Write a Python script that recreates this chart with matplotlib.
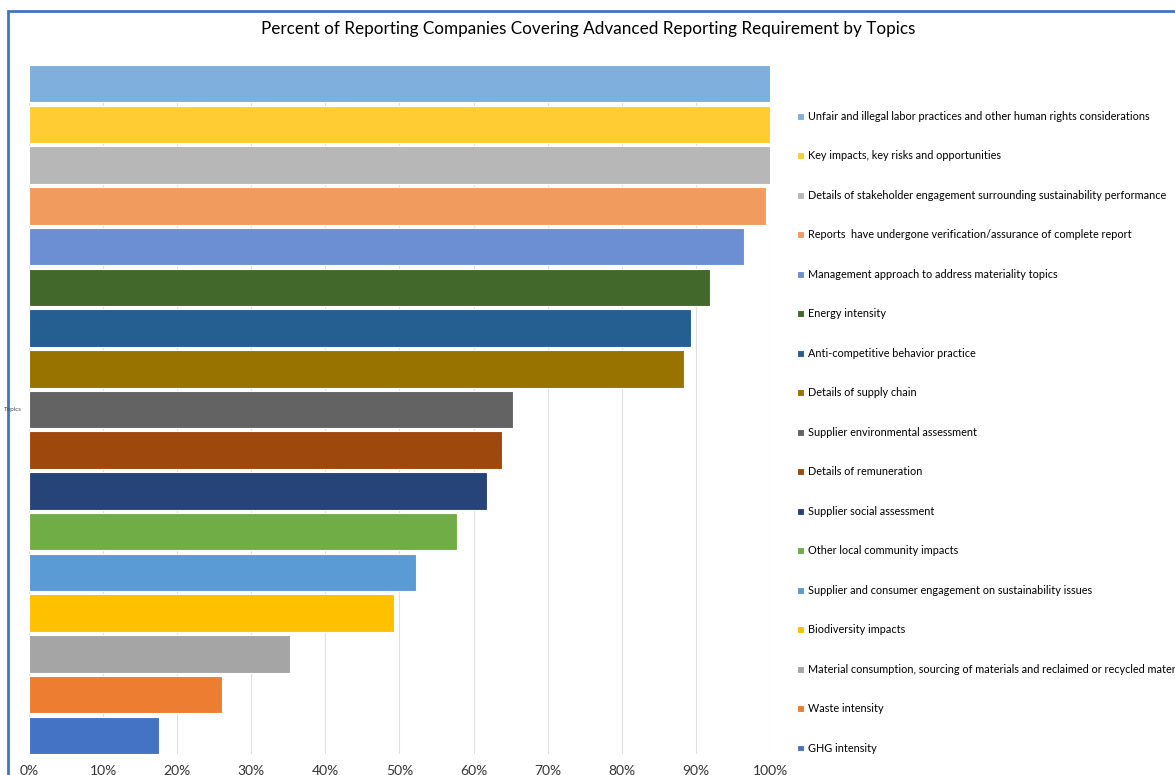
import matplotlib.pyplot as plt
from matplotlib.patches import Rectangle
from matplotlib.ticker import PercentFormatter

plt.rcParams['font.family'] = ['Lato', 'DejaVu Sans']

# topics, top to bottom as shown
topics = [
    "Unfair and illegal labor practices and other human rights considerations",
    "Key impacts, key risks and opportunities",
    "Details of stakeholder engagement surrounding sustainability performance",
    "Reports  have undergone verification/assurance of complete report",
    "Management approach to address materiality topics",
    "Energy intensity",
    "Anti-competitive behavior practice",
    "Details of supply chain",
    "Supplier environmental assessment",
    "Details of remuneration",
    "Supplier social assessment",
    "Other local community impacts",
    "Supplier and consumer engagement on sustainability issues",
    "Biodiversity impacts",
    "Material consumption, sourcing of materials and reclaimed or recycled materials used",
    "Waste intensity",
    "GHG intensity",
]
percent = [100, 100, 100, 99.5, 96.5, 91.9, 89.3, 88.4, 65.3, 63.8,
           61.8, 57.8, 52.2, 49.3, 35.2, 26.0, 17.5]
colors = ["#7FAFDD", "#FFCD33", "#B7B7B7", "#F19B5F", "#6B8FD2", "#43682B",
          "#255E91", "#997300", "#636363", "#9E480E", "#264478", "#70AD47",
          "#5B9BD5", "#FFC000", "#A5A5A5", "#ED7D31", "#4472C4"]

fig = plt.figure(figsize=(11.75, 7.75), dpi=100)
ax = fig.add_axes([29 / 1175, 21 / 775, 741 / 1175, 689 / 775])

for i in range(len(topics)):
    ax.barh(i, percent[i], height=0.92, color=colors[i], edgecolor='white',
            linewidth=0.8, label=topics[i], zorder=2)

ax.set_ylim(16.46, -0.46)
ax.set_xlim(0, 100)
ax.set_xticks(range(0, 101, 10))
ax.xaxis.set_major_formatter(PercentFormatter(decimals=0))
ax.set_yticks([])
ax.grid(axis='x', color='#E0E0E0', linewidth=0.8, zorder=0)
for s in ax.spines.values():
    s.set_visible(False)
ax.tick_params(axis='x', length=0, labelsize=10, pad=8, colors='#333333')

fig.text(22 / 1175, 1 - 409 / 775, "Topics", fontsize=4.5, ha='right',
         va='center', color='#444444')

fig.text(588 / 1175, 1 - 29 / 775,
         "Percent of Reporting Companies Covering Advanced Reporting Requirement by Topics",
         fontsize=12.3, ha='center', va='center')

ax.legend(loc='upper left', bbox_to_anchor=(797 / 1175, 1 - 111 / 775),
          bbox_transform=fig.transFigure, frameon=False, fontsize=7.8,
          labelspacing=2.63, handlelength=0.6, handleheight=0.6,
          handletextpad=0.45, borderpad=0, borderaxespad=0)

# blue frame of the original chart area
fig.patches.append(Rectangle((8 / 1175, -0.1), 1.2, 1 - 11 / 775 + 0.1,
                             transform=fig.transFigure, fill=False,
                             edgecolor='#4472C4', linewidth=2))

fig.savefig('out.png', dpi=100)
